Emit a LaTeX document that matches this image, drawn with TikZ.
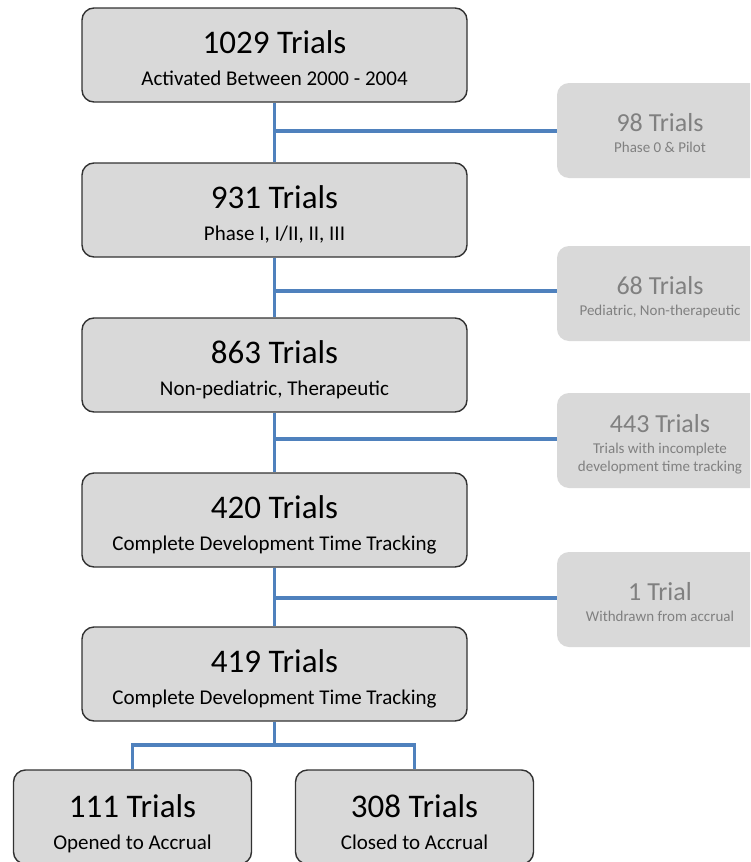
\documentclass[tikz,border=0pt]{standalone}
\usepackage{fontspec}
\setmainfont{Carlito}
\usetikzlibrary{backgrounds}
\definecolor{boxfill}{RGB}{217,217,217}
\definecolor{boxline}{RGB}{50,50,50}
\definecolor{greytext}{RGB}{128,128,128}
\definecolor{connblue}{RGB}{79,129,189}
\tikzset{
  mainbox/.style={draw=boxline, line width=1.4pt, fill=boxfill, rounded corners=12pt, minimum width=385pt, minimum height=94pt, inner sep=0pt},
  botbox/.style={mainbox, minimum width=238pt},
  greybox/.style={fill=boxfill, rounded corners=12pt, minimum width=210pt, minimum height=95pt, inner sep=0pt},
  maintitle/.style={anchor=base, inner sep=0pt, font=\fontsize{33}{36}\selectfont},
  mainsub/.style={anchor=base, inner sep=0pt, font=\fontsize{21}{24}\selectfont},
  greytitle/.style={anchor=base, inner sep=0pt, text=greytext, font=\fontsize{26}{28}\selectfont},
  greysub/.style={anchor=base, inner sep=0pt, text=greytext, font=\fontsize{15}{18}\selectfont},
  conn/.style={draw=connblue, line width=3.6pt}
}
\begin{document}
\begin{tikzpicture}[x=1pt, y=-1pt]
\useasboundingbox (0,0) rectangle (750,862);
\clip (0,0) rectangle (750,862);
% main boxes
\node[mainbox] (b1) at (274.5,55) {};
\node[mainbox] (b2) at (274.5,210) {};
\node[mainbox] (b3) at (274.5,365) {};
\node[mainbox] (b4) at (274.5,520) {};
\node[mainbox] (b5) at (274.5,674) {};
\node[botbox] (b6) at (132.5,817) {};
\node[botbox] (b7) at (414.5,817) {};
% grey boxes
\node[greybox] (g1) at (662,130.5) {};
\node[greybox] (g2) at (662,293.5) {};
\node[greybox] (g3) at (662,440.5) {};
\node[greybox] (g4) at (662,599.5) {};
% connectors
\begin{scope}[on background layer]
\draw[conn] (b1.south) -- (b2.north);
\draw[conn] (b2.south) -- (b3.north);
\draw[conn] (b3.south) -- (b4.north);
\draw[conn] (b4.south) -- (b5.north);
\coordinate (j1) at (274.5,131);
\coordinate (j2) at (274.5,291);
\coordinate (j3) at (274.5,439);
\coordinate (j4) at (274.5,598);
\draw[conn] (j1) -- (g1.west |- j1);
\draw[conn] (j2) -- (g2.west |- j2);
\draw[conn] (j3) -- (g3.west |- j3);
\draw[conn] (j4) -- (g4.west |- j4);
\coordinate (split) at (274.5,745);
\draw[conn] (b5.south) -- (split);
\draw[conn] (split) -| (b6.north);
\draw[conn] (split) -| (b7.north);
\end{scope}
% texts
\node[maintitle] (t1) at (274.5,53) {1029 Trials};
\node[mainsub] (s1) at (274.5,85) {Activated Between 2000 - 2004};
\node[maintitle] (t2) at (274.5,208) {931 Trials};
\node[mainsub] (s2) at (274.5,240) {Phase I, I/II, II, III};
\node[maintitle] (t3) at (274.5,363) {863 Trials};
\node[mainsub] (s3) at (274.5,395) {Non-pediatric, Therapeutic};
\node[maintitle] (t4) at (274.5,518) {420 Trials};
\node[mainsub] (s4) at (274.5,550) {Complete Development Time Tracking};
\node[maintitle] (t5) at (274.5,672) {419 Trials};
\node[mainsub] (s5) at (274.5,704) {Complete Development Time Tracking};
\node[maintitle] (t6) at (132.5,817) {111 Trials};
\node[mainsub] (s6) at (132.5,849) {Opened to Accrual};
\node[maintitle] (t7) at (414.5,817) {308 Trials};
\node[mainsub] (s7) at (414.5,849) {Closed to Accrual};
\node[greytitle] (gt1) at (660,131) {98 Trials};
\node[greysub] (gs1) at (660,152) {Phase 0 \& Pilot};
\node[greytitle] (gt2) at (660,294) {68 Trials};
\node[greysub] (gs2) at (660,315) {Pediatric, Non-therapeutic};
\node[greytitle] (gt3) at (660,432) {443 Trials};
\node[greysub] (gs3a) at (660,453) {Trials with incomplete};
\node[greysub] (gs3b) at (660,471) {development time tracking};
\node[greytitle] (gt4) at (660,600) {1 Trial};
\node[greysub] (gs4) at (660,621) {Withdrawn from accrual};
\end{tikzpicture}
\end{document}
